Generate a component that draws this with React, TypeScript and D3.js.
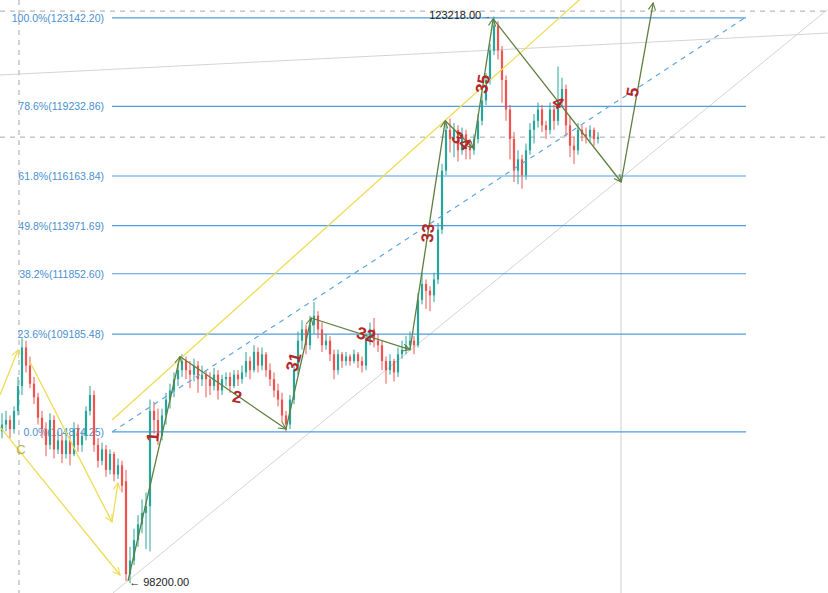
import React from 'react';
import * as d3 from 'd3';

const W = 828;
const H = 593;

// Fibonacci retracement levels
const fibPcts = ['100.0%', '78.6%', '61.8%', '49.8%', '38.2%', '23.6%', '0.0%'];
const fibValues = [123142.2, 119232.86, 116163.84, 113971.69, 111852.6, 109185.48, 104874.25];
const fibRange = [27.5, 186]; // bar index span of the fib lines

// Candles: [open, high, low, close] in thousands USD
const ohlc: number[][] = [
  [104.9, 105.7, 104.6, 105.2], [105.2, 105.8, 104.9, 105.4], [105.4, 105.6, 104.6, 105.0], [105.0, 106.0, 104.8, 105.8],
  [105.8, 107.3, 105.6, 106.9], [106.9, 109.0, 106.5, 108.6], [108.6, 108.9, 107.5, 107.8], [107.8, 108.2, 106.8, 107.0],
  [107.0, 107.3, 106.1, 106.4], [106.4, 106.6, 105.2, 105.5], [105.5, 105.8, 104.6, 105.0], [105.0, 105.3, 103.8, 104.3],
  [104.3, 105.7, 104.1, 105.4], [105.4, 105.6, 103.7, 104.1], [104.1, 104.9, 103.9, 104.5], [104.5, 104.8, 103.5, 103.9],
  [103.9, 104.9, 103.7, 104.5], [104.5, 104.7, 103.4, 103.9], [103.9, 105.3, 103.8, 105.0], [105.0, 105.2, 104.0, 104.3],
  [104.3, 104.9, 104.0, 104.7], [104.7, 106.0, 104.5, 105.8], [105.8, 106.9, 105.6, 106.5], [106.5, 106.7, 104.0, 104.3],
  [104.3, 104.6, 103.3, 103.6], [103.6, 104.4, 103.4, 104.1], [104.1, 104.3, 102.9, 103.2], [103.2, 104.1, 103.0, 103.9],
  [103.9, 104.0, 102.7, 103.0], [103.0, 103.7, 102.8, 103.4], [103.4, 103.6, 102.2, 102.5], [102.7, 103.2, 98.3, 98.6],
  [98.6, 99.8, 98.2, 99.2], [99.2, 100.6, 99.0, 100.1], [100.1, 101.2, 99.8, 100.8], [100.8, 101.9, 100.4, 101.3],
  [101.3, 102.2, 99.7, 101.6], [101.6, 106.3, 99.6, 105.8], [105.8, 106.2, 104.8, 105.4], [105.4, 105.9, 104.3, 104.7],
  [104.7, 105.9, 104.5, 105.6], [105.6, 106.6, 105.2, 106.3], [106.3, 107.0, 105.9, 106.7], [106.7, 107.5, 106.4, 107.2],
  [107.2, 107.9, 106.9, 107.6], [107.6, 108.3, 107.3, 108.0], [108.0, 108.2, 107.2, 107.6], [107.6, 108.0, 106.8, 107.4],
  [107.4, 108.1, 107.1, 107.8], [107.8, 108.0, 106.6, 107.2], [107.2, 107.8, 106.9, 107.4], [107.4, 107.6, 106.4, 107.2],
  [107.2, 107.5, 106.5, 106.9], [106.9, 107.7, 106.7, 107.4], [107.4, 107.6, 106.3, 106.7], [106.7, 107.4, 106.5, 107.2],
  [107.2, 107.5, 106.9, 107.3], [107.3, 107.5, 106.6, 106.9], [106.9, 107.6, 106.8, 107.4], [107.4, 107.6, 106.9, 107.2],
  [107.2, 107.8, 107.0, 107.5], [107.5, 108.4, 107.3, 108.0], [108.0, 108.2, 107.2, 107.6], [107.6, 108.7, 107.5, 108.4],
  [108.4, 108.6, 107.5, 107.8], [107.8, 108.6, 107.6, 108.3], [108.3, 108.4, 107.3, 107.6], [107.6, 107.9, 106.9, 107.2],
  [107.2, 107.5, 106.4, 106.7], [106.7, 107.0, 106.0, 106.3], [106.3, 106.6, 105.3, 105.6], [105.6, 105.8, 104.9, 105.2],
  [105.2, 106.5, 105.0, 106.3], [106.3, 107.8, 106.1, 107.6], [107.6, 109.3, 107.4, 108.9], [108.9, 109.8, 108.5, 109.4],
  [109.4, 109.6, 108.3, 108.7], [108.7, 110.0, 108.5, 109.6], [109.6, 110.6, 109.2, 110.0], [110.0, 110.2, 109.0, 109.4],
  [109.4, 109.7, 108.4, 108.7], [108.7, 109.2, 108.5, 108.9], [108.9, 109.1, 108.0, 108.3], [108.3, 108.5, 107.2, 107.6],
  [107.6, 108.5, 107.4, 108.3], [108.3, 108.4, 107.7, 108.0], [108.0, 108.4, 107.8, 108.2], [108.2, 108.3, 107.8, 108.0],
  [108.0, 108.5, 107.9, 108.3], [108.3, 108.4, 107.7, 108.0], [108.0, 108.2, 107.5, 107.8], [107.8, 109.2, 107.6, 108.9],
  [108.9, 109.7, 108.7, 109.4], [109.4, 109.9, 108.6, 108.9], [108.9, 109.2, 108.4, 108.7], [108.7, 108.9, 107.6, 108.0],
  [108.0, 108.2, 107.0, 107.6], [107.6, 108.3, 107.4, 108.0], [108.0, 108.1, 107.1, 107.5], [107.5, 108.6, 107.3, 108.3],
  [108.3, 108.9, 108.1, 108.5], [108.5, 109.1, 108.3, 108.7], [108.7, 109.3, 108.5, 108.9], [108.9, 109.1, 108.3, 108.7],
  [108.7, 111.0, 108.6, 110.7], [110.7, 111.9, 110.5, 111.4], [111.4, 111.6, 110.3, 111.1], [111.1, 111.3, 110.2, 110.9],
  [110.9, 111.9, 110.6, 111.6], [111.6, 114.1, 111.4, 113.8], [113.8, 116.7, 113.6, 116.4], [116.4, 118.6, 116.2, 118.2],
  [118.2, 118.7, 117.2, 117.8], [117.8, 118.5, 117.0, 118.2], [118.2, 118.4, 116.8, 117.3], [117.3, 118.3, 117.1, 118.0],
  [118.0, 118.2, 116.9, 117.5], [117.5, 117.8, 116.9, 117.3], [117.3, 118.0, 117.1, 117.8], [117.8, 118.9, 117.6, 118.6],
  [118.6, 119.8, 118.4, 119.5], [119.5, 120.7, 119.3, 120.4], [120.4, 122.0, 120.2, 121.7], [121.7, 123.2, 121.5, 122.8],
  [122.8, 123.0, 121.3, 121.7], [121.7, 121.9, 119.4, 120.4], [120.4, 120.6, 118.6, 119.1], [119.1, 119.3, 116.9, 117.8],
  [117.8, 118.1, 115.9, 116.4], [116.4, 117.3, 115.8, 116.9], [116.9, 117.1, 115.6, 116.2], [116.2, 117.6, 116.0, 117.3],
  [117.3, 118.5, 117.1, 118.2], [118.2, 118.9, 117.6, 118.6], [118.6, 119.4, 118.3, 119.1], [119.1, 119.3, 118.1, 118.4],
  [118.4, 118.6, 117.8, 118.2], [118.2, 119.4, 118.0, 119.1], [119.1, 119.3, 118.2, 118.6], [118.6, 121.0, 118.4, 119.5],
  [119.5, 120.5, 119.2, 120.0], [120.0, 120.2, 117.9, 118.4], [118.4, 118.8, 117.0, 117.5], [117.5, 117.9, 116.7, 117.3],
  [117.3, 118.5, 117.1, 118.2], [118.2, 118.4, 117.7, 118.0], [118.0, 118.3, 117.6, 117.9], [117.9, 118.4, 117.6, 118.2],
  [118.2, 118.3, 117.5, 117.8], [117.8, 118.1, 117.6, 117.9],
];

// Elliott wave path (bar index, price k)
const waveIdx = [31.5, 44.5, 71, 77.3, 102, 110.8, 117.8, 122.8, 154.8, 162.8];
const wavePrice = [98.3, 108.2, 105.0, 109.9, 108.5, 118.6, 117.4, 123.1, 115.9, 123.8];
const waveLabelText = ['1', '2', '31', '32', '33', '34', '35', '4', '5'];
const waveLabelIdx = [37.75, 58.75, 73, 91, 106.5, 114.75, 120.25, 139, 157.75];
const waveLabelPrice = [104.65, 106.41, 107.96, 109.15, 113.65, 117.71, 120.22, 119.39, 119.87];
const waveLabelRot = [-85, 10, -75, 15, -85, 40, -80, 35, -80];

// Earlier yellow ABC-like arrows: [idx0, p0, idx1, p1]
const yellowArrows = [
  [-0.5, 106.5, 4, 108.49],
  [7, 107.96, 27.5, 100.9],
  [27.5, 100.9, 29, 102.62],
  [-0.5, 105.09, 29.5, 98.56],
];

// Channel and trend lines: [idx0, p0, idx1, p1]
const yellowChannel = [27.5, 105.4, 146, 124.2];
const blueChannel = [27.5, 104.874, 186, 123.18];
const grayLower = [27.75, 97.77, 206.25, 123.49];
const grayUpper = [-0.5, 120.62, 206.5, 122.47];

const dashedPrices = [123.44, 117.88];
const dashedIdx = 4.25;
const solidIdx = 154.75;

const highLabel = { idx: 122.8, price: 123.218, text: '123218.00' };
const lowLabel = { idx: 31.8, price: 98.2, text: '98200.00' };

const UP = '#26a69a';
const DOWN = '#ef5350';
const WAVE = '#5f7f3f';
const YEL = '#eedc55';
const FIB = '#4d9de0';

export default function App() {
  const x = d3.scaleLinear().domain([0, 149]).range([2, 598]);
  const y = d3.scaleLinear().domain([123.93, 97.767]).range([0, H]);
  const line = (s: number[]) => ({ x1: x(s[0]), y1: y(s[1]), x2: x(s[2]), y2: y(s[3]) });
  const waveLine = d3.line<number>().x((d) => x(waveIdx[d])).y((d) => y(wavePrice[d]));
  const bw = 2.2;

  return (
    <svg width={W} height={H} style={{ position: 'fixed', left: 0, top: 0, background: '#fff' }}
      fontFamily="'Liberation Sans', Arial, sans-serif">
      <defs>
        <marker id="arrW" viewBox="0 0 10 10" refX="9" refY="5" markerWidth="9" markerHeight="9" orient="auto" markerUnits="userSpaceOnUse">
          <path d="M1,1 L9,5 L1,9" fill="none" stroke={WAVE} strokeWidth="1.2" />
        </marker>
        <marker id="arrY" viewBox="0 0 10 10" refX="9" refY="5" markerWidth="9" markerHeight="9" orient="auto" markerUnits="userSpaceOnUse">
          <path d="M1,1 L9,5 L1,9" fill="none" stroke={YEL} strokeWidth="1.2" />
        </marker>
      </defs>
      <rect width={W} height={H} fill="#fff" />

      {/* gray helper lines */}
      <line {...line(grayUpper)} stroke="#d4d4d4" strokeWidth={1} />
      <line {...line(grayLower)} stroke="#d4d4d4" strokeWidth={1} />
      {dashedPrices.map((p, i) => (
        <line key={'hd' + i} x1={0} x2={W} y1={y(p)} y2={y(p)} stroke="#a8a8a8" strokeWidth={1} strokeDasharray="5,5" />
      ))}
      <line x1={x(dashedIdx)} x2={x(dashedIdx)} y1={0} y2={H} stroke="#a8a8a8" strokeWidth={1} strokeDasharray="5,5" />
      <line x1={x(solidIdx)} x2={x(solidIdx)} y1={0} y2={H} stroke="#cfcfcf" strokeWidth={1} />

      {/* Fibonacci levels */}
      {fibValues.map((v, i) => (
        <g key={'fib' + i}>
          <line x1={x(fibRange[0])} x2={x(fibRange[1])} y1={y(v / 1000)} y2={y(v / 1000)} stroke={FIB} strokeWidth={1.2} />
          <text x={104} y={y(v / 1000) + 4} textAnchor="end" fontSize={10.5} fill="#4a90d2">
            {fibPcts[i]}({v.toFixed(2)})
          </text>
        </g>
      ))}

      {/* candles */}
      {ohlc.map((c, i) => {
        const [o, h, l, cl] = c;
        const col = cl >= o ? UP : DOWN;
        const top = y(Math.max(o, cl));
        const bh = Math.max(1, y(Math.min(o, cl)) - top);
        return (
          <g key={'c' + i}>
            <line x1={x(i)} x2={x(i)} y1={y(h)} y2={y(l)} stroke={col} strokeWidth={1} />
            <rect x={x(i) - bw / 2} y={top} width={bw} height={bh} fill={col} />
          </g>
        );
      })}

      {/* channel lines */}
      <line {...line(yellowChannel)} stroke={YEL} strokeWidth={1.3} />
      <line {...line(blueChannel)} stroke="#5ea6df" strokeWidth={1.2} strokeDasharray="5,5" />

      {/* yellow arrows */}
      {yellowArrows.map((s, i) => (
        <line key={'ya' + i} {...line(s)} stroke={YEL} strokeWidth={1.3} markerEnd="url(#arrY)" />
      ))}
      <text x={x(dashedIdx) + 2} y={y(104.1) + 5} fontSize={13} fill="#b5b040" textAnchor="middle">C</text>

      {/* wave lines */}
      {waveIdx.slice(1).map((_, i) => (
        <path key={'w' + i} d={waveLine([i, i + 1]) || ''} stroke={WAVE} strokeWidth={1.3} fill="none" markerEnd="url(#arrW)" />
      ))}

      {/* wave labels */}
      {waveLabelText.map((t, i) => (
        <text key={'wl' + i} transform={`translate(${x(waveLabelIdx[i])},${y(waveLabelPrice[i])}) rotate(${waveLabelRot[i]})`}
          textAnchor="middle" dominantBaseline="central" fontSize={17} fontWeight="bold" fill="#b3262a">
          {t}
        </text>
      ))}

      {/* price annotations */}
      <text x={x(highLabel.idx) - 12} y={y(highLabel.price) + 3} textAnchor="end" fontSize={11} fill="#222">{highLabel.text}</text>
      <text x={x(highLabel.idx) - 11} y={y(highLabel.price) + 3} fontSize={8} fill="#222">→</text>
      <text x={x(lowLabel.idx)} y={y(lowLabel.price) + 3} fontSize={11} fill="#222">← {lowLabel.text}</text>
    </svg>
  );
}
